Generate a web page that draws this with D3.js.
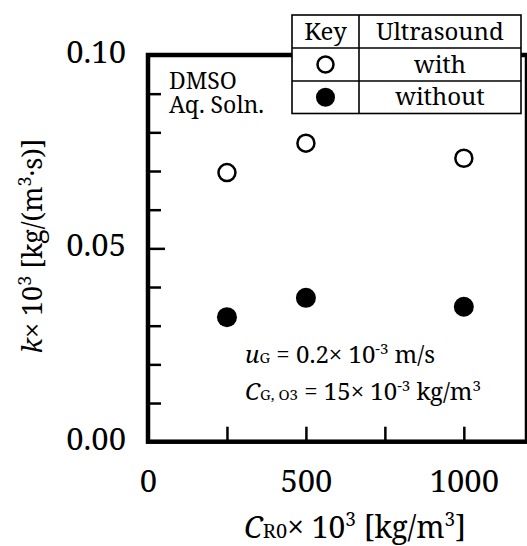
<!DOCTYPE html>
<html>
<head>
<meta charset="utf-8">
<script src="https://cdn.jsdelivr.net/npm/d3@7"></script>
<style>
body{margin:0;background:#fff;}
svg{display:block;}
</style>
</head>
<body>
<svg id="chart" width="527" height="546"></svg>
<script>
// data
var concR0=[250,500,1000];
var kWith=[0.0696,0.0772,0.0733];
var kWithout=[0.0322,0.0372,0.0349];
var yLabelTicks=[0,0.05,0.10];
var yMinorTicks=[0.01,0.02,0.03,0.04,0.06,0.07,0.08,0.09];
var xLabelTicks=[0,500,1000];
var xMinorTicks=[250,500,750,1000];
var keyRows=["with","without"];

var fontFam="Noto Serif";
var svg=d3.select("#chart");
var plotLeft=148,plotRight=527,plotTop=55,plotBottom=441.7;

var x=d3.scaleLinear().domain([0,1200]).range([plotLeft,plotRight]);
var y=d3.scaleLinear().domain([0,0.10]).range([plotBottom,plotTop]);

function styleTicks(g){
	g.select(".domain").remove();
	g.selectAll("line").attr("stroke","#000").attr("stroke-width",2.5);
}

// inner ticks
svg.append("g")
.attr("transform","translate("+plotLeft+",0)")
.call(d3.axisLeft(y).tickValues(yMinorTicks).tickSize(-13).tickFormat(""))
.call(styleTicks);

svg.append("g")
.attr("transform","translate("+plotLeft+",0)")
.call(d3.axisLeft(y).tickValues([0.05]).tickSize(-17).tickFormat(""))
.call(styleTicks);

svg.append("g")
.attr("transform","translate(0,"+plotBottom+")")
.call(d3.axisBottom(x).tickValues(xMinorTicks).tickSize(-15).tickFormat(""))
.call(styleTicks);

// tick labels
svg.append("g")
.attr("transform","translate("+plotLeft+",0)")
.call(d3.axisLeft(y).tickValues(yLabelTicks).tickFormat(d3.format(".2f")).tickSize(0).tickPadding(22))
.call(g=>g.select(".domain").remove())
.call(g=>g.selectAll("text").attr("font-size",31).attr("fill","#000").attr("dy","0.24em"));

svg.append("g")
.attr("transform","translate(0,"+plotBottom+")")
.call(d3.axisBottom(x).tickValues(xLabelTicks).tickFormat(d3.format("d")).tickSize(0).tickPadding(28))
.call(g=>g.select(".domain").remove())
.call(g=>g.selectAll("text").attr("font-size",31).attr("fill","#000"));

// frame
svg.append("rect")
.attr("x",plotLeft).attr("y",plotTop)
.attr("width",plotRight-plotLeft).attr("height",plotBottom-plotTop)
.attr("fill","none").attr("stroke","#000").attr("stroke-width",4.5);

// points
svg.append("g").selectAll("circle")
.data(concR0)
.join("circle")
.attr("cx",d=>x(d))
.attr("cy",(d,i)=>y(kWith[i]))
.attr("r",8.5)
.attr("fill","#fff").attr("stroke","#000").attr("stroke-width",2.5);

svg.append("g").selectAll("circle")
.data(concR0)
.join("circle")
.attr("cx",d=>x(d))
.attr("cy",(d,i)=>y(kWithout[i]))
.attr("r",10)
.attr("fill","#000");

// annotations
var note=svg.append("g").attr("fill","#000");
note.append("text").attr("x",169).attr("y",89).attr("font-size",23).text("DMSO");
note.append("text").attr("x",169).attr("y",113).attr("font-size",23).text("Aq. Soln.");

var t1=note.append("text").attr("x",245).attr("y",363).attr("font-size",24);
t1.append("tspan").attr("font-style","italic").text("u");
t1.append("tspan").attr("font-size",15).text("G");
t1.append("tspan").text(" = 0.2× 10");
t1.append("tspan").attr("font-size",15).attr("dy",-9).text("-3");
t1.append("tspan").attr("dy",9).text(" m/s");

var t2=note.append("text").attr("x",245).attr("y",400).attr("font-size",24);
t2.append("tspan").attr("font-style","italic").text("C");
t2.append("tspan").attr("font-size",15).text("G, O3");
t2.append("tspan").text(" = 15× 10");
t2.append("tspan").attr("font-size",15).attr("dy",-9).text("-3");
t2.append("tspan").attr("dy",9).text(" kg/m");
t2.append("tspan").attr("font-size",15).attr("dy",-9).text("3");

// key table
var kx0=292,kx1=359,kx2=521;
var rowY=[15,48,81,113.5];
var key=svg.append("g");
key.append("rect").attr("x",kx0).attr("y",rowY[0]).attr("width",kx2-kx0).attr("height",rowY[3]-rowY[0])
.attr("fill","#fff").attr("stroke","#000").attr("stroke-width",1.6);
key.append("line").attr("x1",kx1).attr("x2",kx1).attr("y1",rowY[0]).attr("y2",rowY[3]).attr("stroke","#000").attr("stroke-width",1.6);
[rowY[1],rowY[2]].forEach(v=>{
	key.append("line").attr("x1",kx0).attr("x2",kx2).attr("y1",v).attr("y2",v).attr("stroke","#000").attr("stroke-width",1.6);
});
key.append("text").attr("x",(kx0+kx1)/2).attr("y",40).attr("text-anchor","middle").attr("font-size",24).text("Key");
key.append("text").attr("x",(kx1+kx2)/2).attr("y",40).attr("text-anchor","middle").attr("font-size",24).text("Ultrasound");
keyRows.forEach((r,i)=>{
	var cy=(rowY[i+1]+rowY[i+2])/2;
	key.append("circle").attr("cx",(kx0+kx1)/2).attr("cy",cy).attr("r",i===0?8:9.5)
	.attr("fill",i===0?"#fff":"#000").attr("stroke","#000").attr("stroke-width",i===0?2.5:0);
	key.append("text").attr("x",(kx1+kx2)/2).attr("y",cy+8).attr("text-anchor","middle").attr("font-size",24).text(r);
});

// axis titles
var xt=svg.append("text").attr("x",355).attr("y",538).attr("text-anchor","middle").attr("font-size",30);
xt.append("tspan").attr("font-style","italic").text("C");
xt.append("tspan").attr("font-size",20).text("R0");
xt.append("tspan").text("× 10");
xt.append("tspan").attr("font-size",19).attr("dy",-12).text("3");
xt.append("tspan").attr("dy",12).text(" [kg/m");
xt.append("tspan").attr("font-size",19).attr("dy",-12).text("3");
xt.append("tspan").attr("dy",12).text("]");

var yt=svg.append("text").attr("transform","translate(42,246) rotate(-90)").attr("text-anchor","middle").attr("font-size",27);
yt.append("tspan").attr("font-style","italic").text("k");
yt.append("tspan").text("× 10");
yt.append("tspan").attr("font-size",18).attr("dy",-11).text("3");
yt.append("tspan").attr("dy",11).text(" [kg/(m");
yt.append("tspan").attr("font-size",18).attr("dy",-11).text("3");
yt.append("tspan").attr("dy",11).text("·s)]");

// same serif face on every text node
svg.selectAll("text, tspan").attr("font-family",fontFam);
</script>
</body>
</html>
